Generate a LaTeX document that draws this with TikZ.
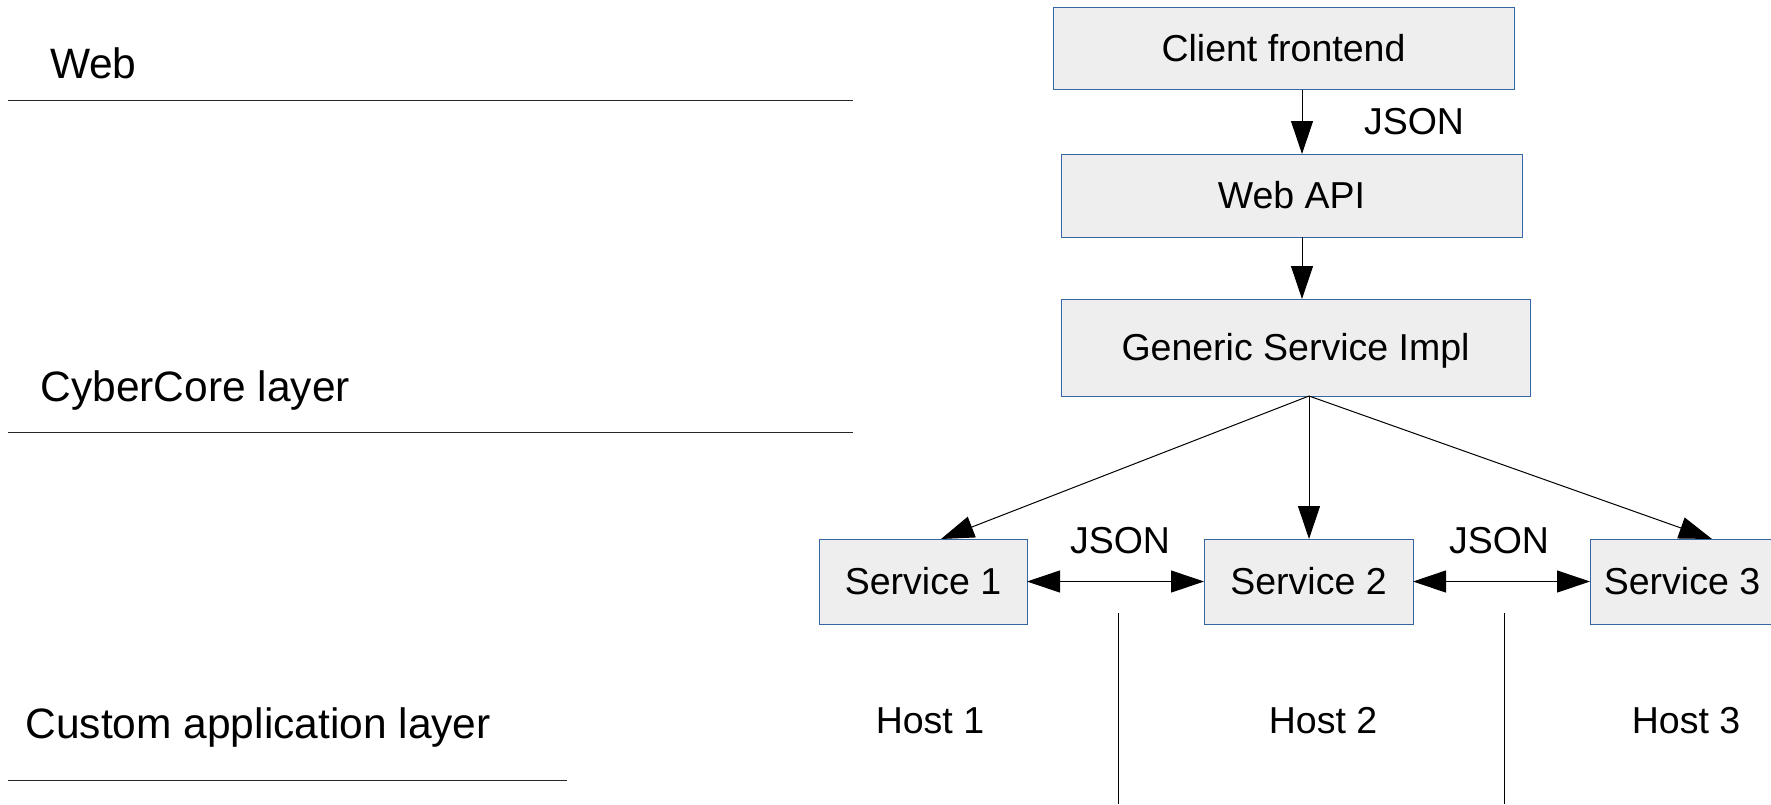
\documentclass[tikz,border=0pt]{standalone}
\usepackage{fontspec}
\setmainfont{Liberation Sans}
\usetikzlibrary{arrows.meta}
\definecolor{boxline}{RGB}{52,101,164}
\definecolor{boxfill}{RGB}{238,238,238}
\tikzset{
  x=1pt, y=-1pt,
  boxtext/.style={inner sep=0pt, outer sep=0pt, font=\fontsize{37.5}{45}\selectfont, text height=26.85pt, text depth=0pt, align=center},
  svcbox/.style={boxtext, draw=boxline, fill=boxfill, line width=1pt},
  layertext/.style={inner sep=0pt, outer sep=0pt, anchor=base west, font=\fontsize{42.5}{50}\selectfont},
  layerline/.style={line width=1.2pt, black!85},
  hostline/.style={line width=1pt, black},
  arr/.style={line width=1pt, -{Triangle[length=33pt,width=22pt]}},
  darr/.style={line width=1pt, {Triangle[length=33pt,width=22pt]}-{Triangle[length=33pt,width=22pt]}}
}
\begin{document}
\begin{tikzpicture}
\clip (0,0) rectangle (1771,804);
\fill[white] (0,0) rectangle (1771,804);

% layer labels and separators
\node[layertext] (lweb) at (50,78) {Web};
\node[layertext] (lcore) at (40.5,401) {CyberCore layer};
\node[layertext] (lapp) at (25.5,738) {Custom application layer};
\coordinate (w1) at (8,100.5); \coordinate (w2) at (853,100.5);
\coordinate (c1) at (8,432.6); \coordinate (c2) at (853,432.6);
\coordinate (a1) at (8,780.5); \coordinate (a2) at (567,780.5);
\draw[layerline] (w1) -- (w2);
\draw[layerline] (c1) -- (c2);
\draw[layerline] (a1) -- (a2);

% boxes
\node[svcbox, minimum width=461pt, minimum height=82.5pt] (client) at (1283.5,48.25) {Client frontend};
\node[svcbox, minimum width=461pt, minimum height=83pt] (api) at (1291.5,195.5) {Web API};
\node[svcbox, minimum width=469pt, minimum height=97pt] (gen) at (1295.5,347.5) {Generic Service Impl};
\node[svcbox, minimum width=208pt, minimum height=85pt] (s1) at (923,581.5) {Service 1};
\node[svcbox, minimum width=209pt, minimum height=85pt] (s2) at (1308.5,581.5) {Service 2};
\node[svcbox, minimum width=184pt, minimum height=85pt] (s3) at (1682,581.5) {Service 3};

% labels
\node[boxtext] (j0) at (1414,121) {JSON};
\node[boxtext] (j1) at (1120,540) {JSON};
\node[boxtext] (j2) at (1499,540) {JSON};
\node[boxtext] (h1) at (930,720) {Host 1};
\node[boxtext] (h2) at (1323,720) {Host 2};
\node[boxtext] (h3) at (1686,720) {Host 3};

% connectors
\coordinate (top) at ([xshift=18.5pt]client.south);
\draw[arr] (top) -- (top |- api.north);
\coordinate (mid) at ([xshift=10.5pt]api.south);
\draw[arr] (mid) -- (mid |- gen.north);
\coordinate (fan) at ([xshift=13.5pt]gen.south);
\draw[arr] (fan) -- ([xshift=18pt]s1.north);
\draw[arr] (fan) -- (fan |- s2.north);
\draw[arr] (fan) -- ([xshift=30pt]s3.north);
\draw[darr] (s1.east) -- (s2.west);
\draw[darr] (s2.east) -- (s3.west);

% host separators
\coordinate (v1a) at (1118,613); \coordinate (v1b) at (1118,804);
\coordinate (v2a) at (1504,613); \coordinate (v2b) at (1504,804);
\draw[hostline] (v1a) -- (v1b);
\draw[hostline] (v2a) -- (v2b);
\end{tikzpicture}
\end{document}
